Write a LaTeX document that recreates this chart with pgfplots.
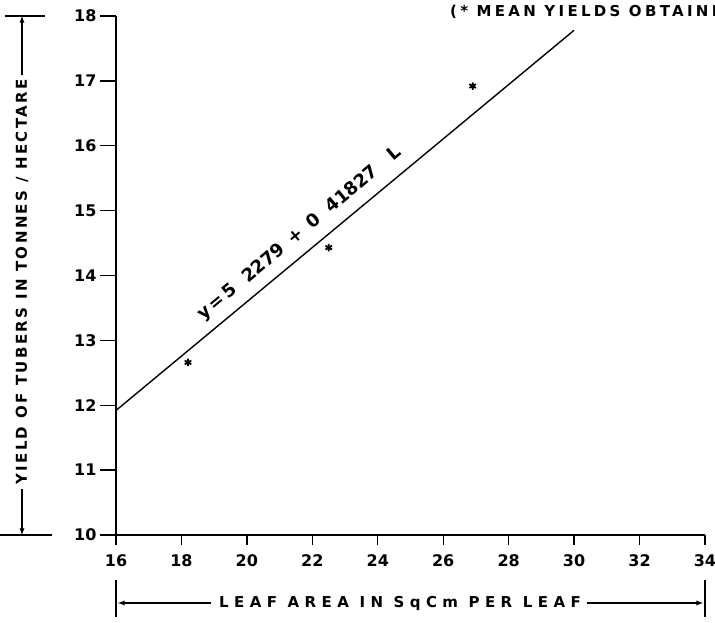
\documentclass[border=0pt]{standalone}
\usepackage{fontspec}
\setmainfont{DejaVu Sans}
\newfontfamily\hand[LetterSpace=22]{DejaVu Sans}
\newfontfamily\handy[LetterSpace=16]{DejaVu Sans}
\newfontfamily\handx[LetterSpace=36]{DejaVu Sans}
\usepackage{pgfplots}
\pgfplotsset{compat=1.18}
\begin{document}
\begin{tikzpicture}
\begin{axis}[
  at={(0pt,0pt)}, anchor=south west,
  x=32.72pt, y=64.875pt,
  xmin=16, xmax=34, ymin=10, ymax=18,
  axis lines=left,
  axis line style={-, line width=1.4pt},
  xtick={16,18,...,34}, ytick={10,11,...,18},
  yticklabels={10,11,12,13,14,15,16,17,18},
  tick align=outside,
  major tick length=16pt,
  xtick style={/pgfplots/major tick length=10pt},
  tick style={line width=1.4pt, black},
  ticklabel style={font=\bfseries\fontsize{16}{16}\selectfont},
  /pgf/number format/assume math mode=true,
  clip=false,
]
\addplot[no marks, line width=1.4pt] coordinates {(16,11.92) (30,17.78)};
\addplot[only marks, mark=asterisk, mark size=3.8pt, line width=1.8pt] coordinates {(18.2,12.66) (22.5,14.43) (26.9,16.92)};
\node[rotate=39.9, font=\bfseries\fontsize{18}{18}\selectfont, inner sep=0pt] at (axis cs:21.62,14.64) {y\,=\,5 \ 2279\, +\, 0 \ 41827\quad L};
\end{axis}
% title (cut off at the right edge, as in the reference)
\node[anchor=base west, font=\hand\bfseries\fontsize{15}{15}\selectfont, inner sep=0pt] at (334pt,518pt) {(* MEAN YIELDS OBTAINED)};
% y label
\node[rotate=90, font=\handy\bfseries\fontsize{15}{15}\selectfont, inner sep=0pt] (yl) at (-94pt,253pt) {YIELD OF TUBERS IN TONNES / HECTARE};
\draw[line width=1.3pt, -latex] (-94pt,460pt) -- (-94pt,519pt);
\draw[line width=1.3pt, -latex] (-94pt,46pt) -- (-94pt,0pt);
\draw[line width=1.3pt] (-111pt,519pt) -- (-71pt,519pt);
\draw[line width=1.3pt] (-116pt,0pt) -- (-64pt,0pt);
% x label
\node[font=\handx\bfseries\fontsize{15}{15}\selectfont, inner sep=0pt] (xl) at (284pt,-68pt) {LEAF AREA IN SqCm PER LEAF};
\draw[line width=1.3pt, -latex] ([xshift=-8pt]xl.west) -- (2pt,-68pt);
\draw[line width=1.3pt, -latex] ([xshift=6pt]xl.east) -- (587pt,-68pt);
\draw[line width=1.3pt] (0pt,-45pt) -- (0pt,-82pt);
\draw[line width=1.3pt] (589pt,-45pt) -- (589pt,-82pt);
\pgfresetboundingbox
\useasboundingbox (-116pt,-88pt) rectangle (599pt,535pt);
\end{tikzpicture}
\end{document}
